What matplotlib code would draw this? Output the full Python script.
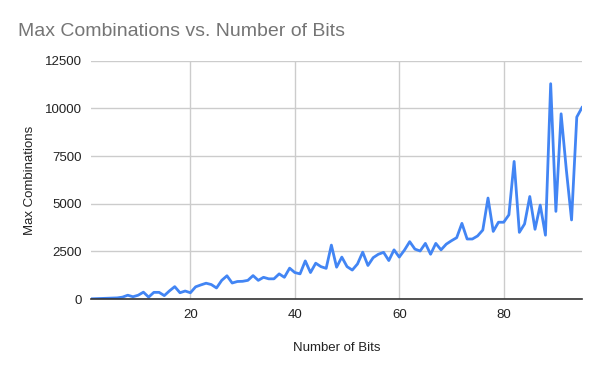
import matplotlib
matplotlib.use("Agg")
import matplotlib.pyplot as plt

plt.rcParams["font.family"] = ["Liberation Sans", "DejaVu Sans"]

# number of bits (x) and max combinations (y)
bits = list(range(1, 96))
max_combinations = [
    10, 20, 30, 40, 50, 60, 100, 200, 120, 200,        # 1-10
    360, 100, 350, 350, 180, 430, 650, 330, 420, 330,  # 11-20
    640, 740, 830, 760, 580, 980, 1220, 840, 920, 930,  # 21-30
    980, 1230, 980, 1140, 1060, 1060, 1320, 1140, 1620, 1390,  # 31-40
    1320, 2000, 1390, 1880, 1700, 1610, 2830, 1670, 2200, 1700,  # 41-50
    1520, 1840, 2460, 1760, 2170, 2350, 2450, 2020, 2580, 2200,  # 51-60
    2570, 3010, 2620, 2520, 2920, 2350, 2920, 2580, 2880, 3060,  # 61-70
    3220, 3970, 3150, 3150, 3310, 3620, 5300, 3550, 4030, 4030,  # 71-80
    4420, 7220, 3500, 3940, 5380, 3660, 4930, 3350, 11300, 4600,  # 81-90
    9720, 6780, 4150, 9550, 10050,                      # 91-95
]

fig = plt.figure(figsize=(6.0, 3.71), dpi=100)
ax = fig.add_axes([0.152, 0.194, 0.818, 0.642])

ax.plot(bits, max_combinations, color="#4285F4", linewidth=2, solid_joinstyle="round")

ax.set_xlim(1, 95)
ax.set_ylim(0, 12500)
ax.set_xticks([20, 40, 60, 80])
ax.set_yticks([0, 2500, 5000, 7500, 10000, 12500])
ax.grid(True, color="#cccccc", linewidth=1)
ax.set_axisbelow(True)

for side in ["top", "right", "left"]:
    ax.spines[side].set_visible(False)
ax.spines["bottom"].set_color("#333333")
ax.spines["bottom"].set_linewidth(1.2)
ax.spines["bottom"].set_zorder(3)

ax.tick_params(axis="both", length=0, labelsize=9.5, labelcolor="#222222")
ax.tick_params(axis="x", pad=7)
ax.tick_params(axis="y", pad=7)

ax.set_xlabel("Number of Bits", fontsize=9.5, color="#222222", labelpad=15)
ax.set_ylabel("Max Combinations", fontsize=9.5, color="#222222", labelpad=6)

fig.text(0.03, 0.915, "Max Combinations vs. Number of Bits", fontsize=14,
         color="#757575", ha="left", va="center")

fig.savefig("out.png", dpi=100)
